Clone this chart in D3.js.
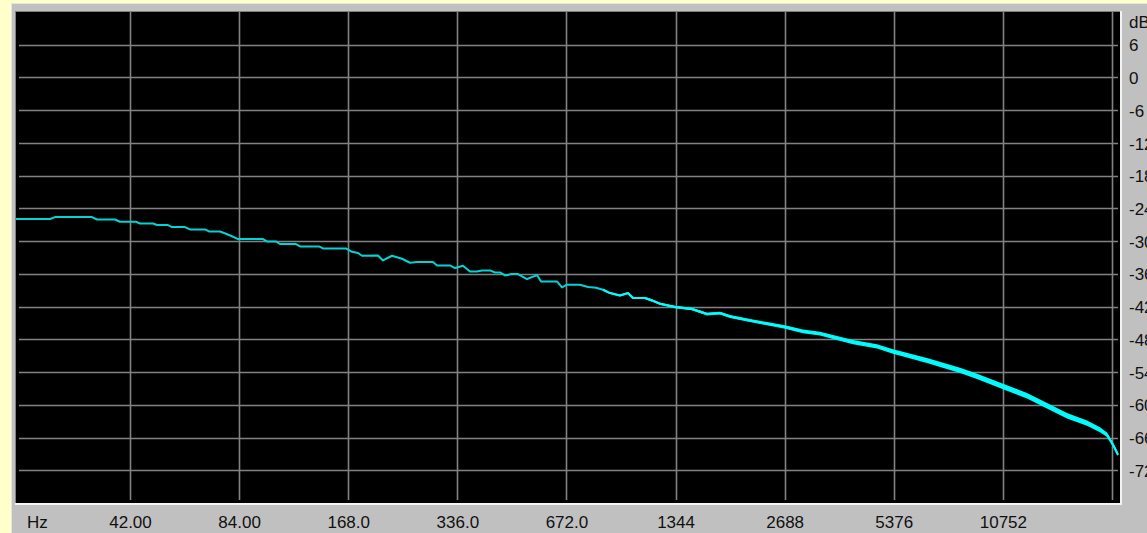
<!DOCTYPE html>
<html>
<head>
<meta charset="utf-8">
<script src="https://cdn.jsdelivr.net/npm/d3@7"></script>
<style>
  html, body { margin: 0; padding: 0; background: #ffffcc; overflow: hidden; }
  svg { display: block; }
  .lbl { font-family: "Liberation Sans", Arial, sans-serif; font-size: 17px; fill: #111; }
</style>
</head>
<body>
<svg id="chart" width="1147" height="533"></svg>
<script>
// Spectrum: frequency (Hz) and level (dB)
const freqs = [20.36, 25.27, 26.08, 32.99, 34.06, 38.18, 39.41, 43.63, 44.76, 48.61,
  49.86, 53.47, 54.84, 59.56, 61.49, 67.63, 69.37, 74.40, 77.29, 80.29,
  83.41, 97.77, 100.3, 106.2, 108.9, 120.6, 123.7, 139.5, 143.1, 165.6,
  172.1, 178.8, 183.4, 203.0, 209.5, 221.9, 236.4, 248.8, 260.1, 287.9,
  295.3, 320.7, 331.1, 348.3, 364.2, 380.7, 393.0, 413.5, 426.9, 440.6,
  454.9, 475.5, 494.0, 523.1, 557.4, 571.8, 632.9, 653.3, 674.4, 732.5,
  770.7, 810.9, 847.7, 886.3, 944.4, 993.6, 1026, 1107, 1157, 1218,
  1339, 1492, 1641, 1783, 1900, 2157, 2403, 2694, 3020, 3365,
  3655, 4149, 4833, 5350, 6640, 8189, 9123, 10763, 12534, 14232,
  16160, 18349, 19929, 20835, 21644, 22343];

const levels = [-25.95, -25.95, -25.59, -25.59, -26.03, -26.03, -26.45, -26.45, -26.76, -26.76,
  -27.05, -27.05, -27.42, -27.42, -27.86, -27.86, -28.23, -28.23, -28.65, -29.11,
  -29.62, -29.62, -30.06, -30.06, -30.53, -30.53, -30.97, -30.97, -31.34, -31.34,
  -31.95, -32.18, -32.68, -32.62, -33.54, -32.68, -33.23, -33.96, -33.83, -33.83,
  -34.46, -34.46, -34.93, -34.51, -35.56, -35.56, -35.37, -35.37, -35.74, -35.74,
  -36.29, -36.03, -36.03, -36.95, -36.22, -37.39, -37.39, -38.49, -37.99, -37.99,
  -38.42, -38.54, -38.91, -39.52, -39.96, -39.52, -40.43, -40.43, -40.87, -41.48,
  -42.08, -42.45, -43.36, -43.18, -43.80, -44.54, -45.14, -45.75, -46.55, -46.97,
  -47.58, -48.50, -49.30, -50.22, -51.87, -53.70, -54.80, -56.63, -58.34, -60.17,
  -62.00, -63.34, -64.57, -65.49, -67.32, -69.15];

// Half-width (dB) of the noise band around each level
const spread = [0, 0, 0, 0, 0, 0, 0, 0, 0, 0,
  0, 0, 0, 0, 0, 0, 0, 0, 0, 0,
  0, 0, 0, 0, 0, 0, 0, 0, 0, 0,
  0, 0, 0, 0, 0, 0, 0, 0, 0, 0,
  0, 0, 0, 0, 0, 0, 0, 0, 0, 0,
  0, 0, 0, 0, 0, 0, 0, 0, 0, 0,
  0, 0, 0, 0.10, 0.12, 0.15, 0.18, 0.18, 0.20, 0.20,
  0.22, 0.22, 0.25, 0.25, 0.27, 0.28, 0.30, 0.32, 0.34, 0.35,
  0.37, 0.38, 0.40, 0.42, 0.45, 0.47, 0.48, 0.50, 0.50, 0.50,
  0.50, 0.48, 0.45, 0.40, 0.35, 0.25];

const gridFreqs = [42, 84, 168, 336, 672, 1344, 2688, 5376, 10752, 21504];
const freqLabels = ["42.00", "84.00", "168.0", "336.0", "672.0", "1344", "2688", "5376", "10752"];
const dbTicks = [6, 0, -6, -12, -18, -24, -30, -36, -42, -48, -54, -60, -66, -72];
const dbLabels = ["6", "0", "-6", "-12", "-18", "-24", "-30", "-36", "-42", "-48", "-54", "-60", "-66", "-72"];

const W = 1147, H = 533;
const plot = { left: 16, top: 12, right: 1120, bottom: 503 };

const x = d3.scaleLog().domain([20.36, 22628]).range([plot.left, plot.right]);
const y = d3.scaleLinear().domain([12, -78]).range([plot.top, plot.bottom]);

const svg = d3.select("#chart");

// Window panel
svg.append("rect").attr("width", W).attr("height", H).attr("fill", "#ffffcc");
svg.append("rect").attr("x", 11).attr("y", 3).attr("width", W - 11).attr("height", H - 3).attr("fill", "#c0c0c0");
svg.append("line").attr("x1", 11).attr("x2", W).attr("y1", 3.5).attr("y2", 3.5).attr("stroke", "#e4e4e4");
svg.append("line").attr("x1", 11.5).attr("x2", 11.5).attr("y1", 3).attr("y2", H).attr("stroke", "#e4e4e4");

// Sunken plot area
svg.append("rect").attr("x", plot.left - 1).attr("y", plot.top - 1)
  .attr("width", plot.right - plot.left + 2).attr("height", plot.bottom - plot.top + 2)
  .attr("fill", "#808080");
svg.append("rect").attr("x", plot.left).attr("y", plot.top)
  .attr("width", plot.right - plot.left).attr("height", plot.bottom - plot.top)
  .attr("fill", "#000");
svg.append("line").attr("x1", plot.left - 1).attr("x2", plot.right + 2).attr("y1", plot.bottom + 1).attr("y2", plot.bottom + 1)
  .attr("stroke", "#f4f4f4").attr("stroke-width", 2);
svg.append("line").attr("x1", plot.right + 1).attr("x2", plot.right + 1).attr("y1", plot.top - 1).attr("y2", plot.bottom + 2)
  .attr("stroke", "#f4f4f4").attr("stroke-width", 2);

svg.append("clipPath").attr("id", "plotClip").append("rect")
  .attr("x", plot.left).attr("y", plot.top)
  .attr("width", plot.right - plot.left).attr("height", plot.bottom - plot.top);

const gridG = svg.append("g").attr("clip-path", "url(#plotClip)");

// Grid
gridG.selectAll("line.vgrid").data(gridFreqs).join("line")
  .attr("class", "vgrid")
  .attr("x1", d => Math.round(x(d)) + 0.5).attr("x2", d => Math.round(x(d)) + 0.5)
  .attr("y1", plot.top).attr("y2", plot.bottom - 3)
  .attr("stroke", "#828282").attr("stroke-width", 1.6);

gridG.selectAll("line.hgrid").data(dbTicks).join("line")
  .attr("class", "hgrid")
  .attr("x1", plot.left + 3).attr("x2", plot.right - 2)
  .attr("y1", d => Math.round(y(d)) + 0.5).attr("y2", d => Math.round(y(d)) + 0.5)
  .attr("stroke", "#828282").attr("stroke-width", 1.6);

// Spectrum trace
const pts = freqs.map((f, i) => ({ f, v: levels[i], s: spread[i] }));
const firstNoisy = pts.findIndex(p => p.s > 0);
const band = pts.slice(Math.max(0, firstNoisy - 1));

const plotG = svg.append("g").attr("clip-path", "url(#plotClip)");

plotG.append("path").datum(band)
  .attr("fill", "#00ffff")
  .attr("d", d3.area().x(d => x(d.f)).y0(d => y(d.v - d.s)).y1(d => y(d.v + d.s)));

plotG.append("path").datum(pts)
  .attr("fill", "none")
  .attr("stroke", "#00d4d4")
  .attr("stroke-width", 2)
  .attr("stroke-linejoin", "round")
  .attr("d", d3.line().x(d => x(d.f)).y(d => y(d.v)));

plotG.append("path").datum(band)
  .attr("fill", "none")
  .attr("stroke", "#00ffff")
  .attr("stroke-width", 2)
  .attr("d", d3.line().x(d => x(d.f)).y(d => y(d.v)));

// Frequency axis labels
const xAxis = d3.axisBottom(x)
  .tickValues(gridFreqs.slice(0, freqLabels.length))
  .tickFormat((d, i) => freqLabels[i])
  .tickSize(0);
const xg = svg.append("g").attr("transform", "translate(0,528)").call(xAxis);
xg.select(".domain").remove();
xg.selectAll("text").attr("class", "lbl").attr("y", 0).attr("dy", null);
xg.attr("font-family", null).attr("font-size", null);

svg.append("text").attr("class", "lbl").attr("x", 27).attr("y", 528).text("Hz");

// Level axis labels
const yAxis = d3.axisRight(y)
  .tickValues(dbTicks)
  .tickFormat((d, i) => dbLabels[i])
  .tickSize(0).tickPadding(0);
const yg = svg.append("g").attr("transform", "translate(1129,0)").call(yAxis);
yg.select(".domain").remove();
yg.selectAll("text").attr("class", "lbl").attr("dy", "0.36em");
yg.attr("font-family", null).attr("font-size", null);

svg.append("text").attr("class", "lbl").attr("x", 1129).attr("y", 28).text("dB");
</script>
</body>
</html>
